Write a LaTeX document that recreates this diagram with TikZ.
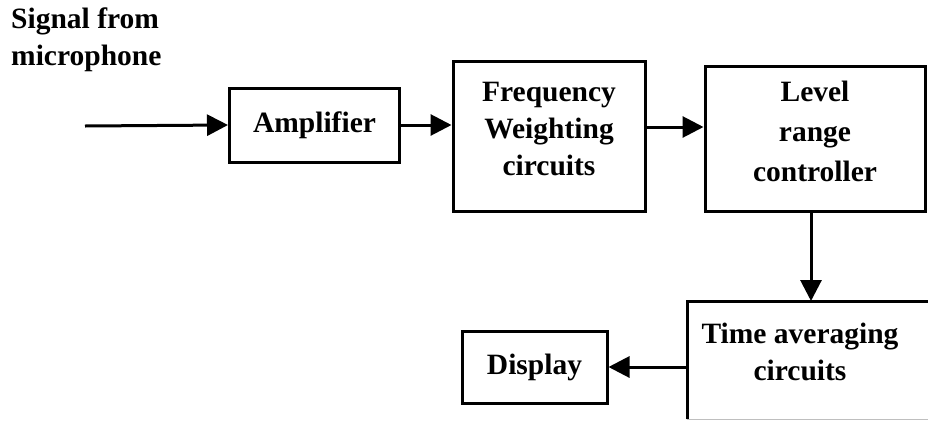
\documentclass[tikz,border=0pt]{standalone}
\usepackage{fontspec}
\setmainfont{Liberation Serif}
\usetikzlibrary{arrows.meta}
\begin{document}
\begin{tikzpicture}[x=1pt,y=-1pt,
  blk/.style={draw,line width=3pt,align=center,inner sep=0pt,
    font=\bfseries\fontsize{29.5}{37}\selectfont},
  txt/.style={align=center,inner sep=0pt,font=\bfseries\fontsize{29.5}{37}\selectfont},
  edge/.style={line width=3pt},
  arr/.style={line width=3pt,-{Triangle[length=21pt,width=21pt]}}]
\clip (0,0) rectangle (928,421);
\node[txt,align=left,anchor=north west] (sig) at (11,8) {Signal from\\microphone};
\coordinate (in) at (85,126);
\node[blk,minimum width=170,minimum height=74] (amp) at (314.5,125) {Amplifier};
\node[blk,minimum width=192,minimum height=150,text depth=14pt] (freq) at (549,136) {Frequency\\Weighting\\circuits};
\node[blk,minimum width=220,minimum height=145,text depth=14pt,
  font=\bfseries\fontsize{29.5}{40}\selectfont] (lev) at (815,138.5) {Level\\range\\controller};
\node[anchor=north west,minimum width=270,minimum height=118,inner sep=0pt] (time) at (687,301) {};
\draw[edge] (time.south west) -- (time.north west) -- (time.north east);
\draw[line width=1pt,gray!50] (time.south west) -- (time.south east);
\node[txt] (timetxt) at (800,352) {Time averaging\\circuits};
\node[blk,minimum width=145,minimum height=72] (disp) at (534.5,367) {Display};
\draw[arr] (in) -- (amp.west);
\draw[arr] (amp.east) -- (freq.west |- amp.east);
\draw[arr] (freq.east |- 0,127) -- (lev.west |- 0,127);
\draw[arr] (lev.south -| 811,0) -- (time.north -| 811,0);
\draw[arr] (time.west |- disp.east) -- (disp.east);
\end{tikzpicture}
\end{document}
